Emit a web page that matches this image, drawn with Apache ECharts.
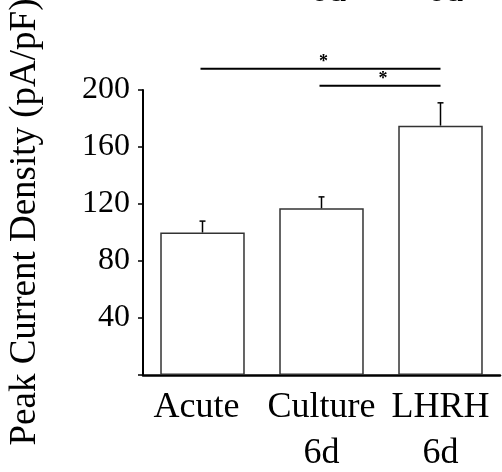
<!DOCTYPE html>
<html>
<head>
<meta charset="utf-8">
<style>
  html, body { margin: 0; padding: 0; background: #fff; }
  #chart { width: 502px; height: 472px; }
</style>
<script src="https://cdn.jsdelivr.net/npm/echarts@6/dist/echarts.min.js"></script>
</head>
<body>
<div id="chart"></div>
<script>
// Peak current density per condition (pA/pF)
var categories = ['Acute', 'Culture\n6d', 'LHRH\n6d'];
var meanValues = [100, 117, 175];
var errorValues = [8, 8, 16];
var yTicks = [0, 40, 80, 120, 160, 200];
// Significance brackets: [from category, to category, height, mark]
var sigFrom = [0, 1];
var sigTo = [2, 2];
var sigLevel = [215, 203];
var sigMark = ['*', '*'];

var serif = "'Liberation Serif', 'Times New Roman', serif";

var chart = echarts.init(document.getElementById('chart'), null, { renderer: 'canvas' });

var errData = meanValues.map(function (v, i) { return [i, v, v + errorValues[i]]; });
var sigData = sigFrom.map(function (f, i) { return [f, sigTo[i], sigLevel[i], sigMark[i]]; });

var option = {
  backgroundColor: '#ffffff',
  animation: false,
  grid: { left: 143, right: 2, top: 90, bottom: 97, containLabel: false, outerBoundsMode: 'none' },
  xAxis: {
    type: 'category',
    data: categories,
    axisLine: { show: true, lineStyle: { color: '#000', width: 2.5 } },
    axisTick: { show: false },
    axisLabel: {
      fontFamily: serif, fontSize: 36, color: '#000',
      margin: 10, lineHeight: 46, interval: 0,
      formatter: function (v, i) { return i === 0 ? '{first|' + v + '}' : v; },
      rich: {
        first: { fontFamily: serif, fontSize: 36, color: '#000', padding: [0, 12, 0, 0] }
      }
    }
  },
  yAxis: {
    type: 'value',
    min: yTicks[0],
    max: yTicks[yTicks.length - 1],
    interval: 40,
    splitLine: { show: false },
    axisLine: { show: true, lineStyle: { color: '#000', width: 2 } },
    axisTick: { show: true, inside: false, length: 5, lineStyle: { color: '#000', width: 1.5 } },
    axisLabel: {
      fontFamily: serif, fontSize: 32, color: '#000', margin: 13,
      formatter: function (v) { return v === 0 ? '' : String(v); }
    }
  },
  graphic: [
    {
      type: 'text',
      x: 25, y: 222, rotation: Math.PI / 2,
      style: {
        text: 'Peak Current Density (pA/pF)',
        fontFamily: serif, fontSize: 37, fill: '#000',
        textAlign: 'center', textVerticalAlign: 'middle'
      }
    },
    {
      type: 'text', x: 328, y: 10,
      style: { text: '6d', fontFamily: serif, fontSize: 36, fill: '#000', textAlign: 'center', textVerticalAlign: 'bottom' }
    },
    {
      type: 'text', x: 445, y: 10,
      style: { text: '6d', fontFamily: serif, fontSize: 36, fill: '#000', textAlign: 'center', textVerticalAlign: 'bottom' }
    }
  ],
  series: [
    {
      type: 'bar',
      data: meanValues,
      barWidth: '71%',
      itemStyle: { color: '#fff', borderColor: '#333', borderWidth: 1.5 },
      z: 2
    },
    {
      type: 'custom',
      clip: false,
      z: 3,
      data: errData,
      renderItem: function (params, api) {
        var top = api.coord([api.value(0), api.value(2)]);
        var base = api.coord([api.value(0), api.value(1)]);
        return {
          type: 'group',
          children: [
            { type: 'line', shape: { x1: top[0], y1: top[1], x2: base[0], y2: base[1] },
              style: { stroke: '#000', lineWidth: 1.5 } },
            { type: 'line', shape: { x1: top[0] - 3, y1: top[1], x2: top[0] + 3, y2: top[1] },
              style: { stroke: '#000', lineWidth: 1.5 } }
          ]
        };
      }
    },
    {
      type: 'custom',
      clip: false,
      z: 4,
      data: sigData,
      renderItem: function (params, api) {
        var a = api.coord([api.value(0), api.value(2)]);
        var b = api.coord([api.value(1), api.value(2)]);
        var mark = sigData[params.dataIndex][3];
        return {
          type: 'group',
          children: [
            { type: 'line', shape: { x1: a[0] - 2, y1: a[1], x2: b[0], y2: b[1] },
              style: { stroke: '#000', lineWidth: 2 } },
            { type: 'text', x: (a[0] + b[0]) / 2 + 2, y: a[1] - 6,
              style: { text: mark, fontFamily: serif, fontSize: 18, fontWeight: 'bold', fill: '#000',
                       textAlign: 'center', textVerticalAlign: 'middle' } }
          ]
        };
      }
    }
  ]
};

chart.setOption(option);
</script>
</body>
</html>
